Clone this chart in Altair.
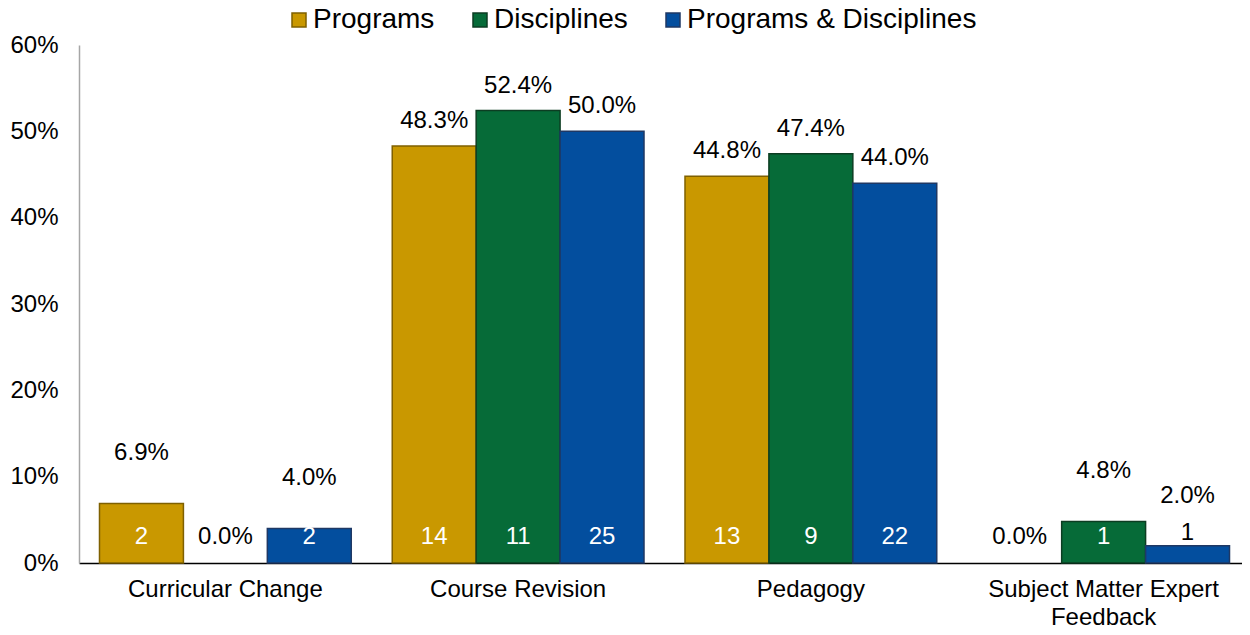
import altair as alt
import pandas as pd

categories = ["Curricular Change", "Course Revision", "Pedagogy", "Subject Matter Expert Feedback"]
series = ["Programs", "Disciplines", "Programs & Disciplines"]
programs_pct = [6.9, 48.3, 44.8, 0.0]
disciplines_pct = [0.0, 52.4, 47.4, 4.8]
both_pct = [4.0, 50.0, 44.0, 2.0]
programs_n = [2, 14, 13, 0]
disciplines_n = [0, 11, 9, 1]
both_n = [2, 25, 22, 1]

colors = ["#C99800", "#066B38", "#034E9E"]
strokes = ["#7F6000", "#0C3D22", "#1F3864"]

rows = []
for s, pcts, ns in zip(series, [programs_pct, disciplines_pct, both_pct], [programs_n, disciplines_n, both_n]):
    for c, p, n in zip(categories, pcts, ns):
        rows.append({"category": c, "series": s, "pct": p, "n": n})
df = pd.DataFrame(rows)

FONT = "Liberation Sans"

x = alt.X("category:N", sort=categories, title=None,
          scale=alt.Scale(paddingInner=0.14, paddingOuter=0.07, range=[0, 1171]),
          axis=alt.Axis(labelAngle=0, labelFontSize=24, labelFont=FONT, labelColor="black",
                        ticks=False, domainColor="black", domainWidth=1.5, labelPadding=14,
                        labelLineHeight=28, labelLimit=400,
                        labelExpr="datum.label == 'Subject Matter Expert Feedback' ? ['Subject Matter Expert', 'Feedback'] : datum.label"))
xo = alt.XOffset("series:N", sort=series, scale=alt.Scale(paddingInner=0, paddingOuter=0))

base = alt.Chart(df)

legend_cfg = dict(orient="none", direction="horizontal", legendX=206, legendY=-39,
                  labelFontSize=28, labelFont=FONT, labelColor="black", labelLimit=600,
                  symbolType="square", symbolSize=196, symbolStrokeWidth=1.5,
                  labelOffset=0, columnPadding=31, title=None)

y_axis = alt.Axis(values=[0, 10, 20, 30, 40, 50, 60], labelExpr="datum.value + '%'",
                  labelFontSize=24, labelFont=FONT, labelColor="black", ticks=False,
                  grid=False, domainColor="#A6A6A6", domainWidth=1.5, labelPadding=21)

bars = base.transform_filter("datum.pct > 0").mark_bar(strokeWidth=1.5).encode(
    x=x,
    xOffset=xo,
    y=alt.Y("pct:Q", title=None, scale=alt.Scale(domain=[0, 60], nice=False), axis=y_axis),
    color=alt.Color("series:N", sort=series, title=None,
                    scale=alt.Scale(domain=series, range=colors),
                    legend=alt.Legend(**legend_cfg)),
    stroke=alt.Stroke("series:N", sort=series, title=None,
                      scale=alt.Scale(domain=series, range=strokes),
                      legend=alt.Legend(**legend_cfg)),
)

pct_text = base.transform_calculate(
    ypos="datum.pct == 0 ? 3 : (datum.pct < 10 ? datum.pct + 5.8 : datum.pct + 2.9)",
    label="format(datum.pct, '.1f') + '%'",
).mark_text(fontSize=24, font=FONT, color="black", baseline="middle", align="center").encode(
    x=x, xOffset=xo, y=alt.Y("ypos:Q", title=None, axis=y_axis), text="label:N"
)

n_text = base.transform_filter("datum.n > 0").transform_calculate(
    ypos="datum.pct < 4 ? datum.pct + 1.5 : 3",
).mark_text(fontSize=24, font=FONT, baseline="middle", align="center").encode(
    x=x, xOffset=xo, y=alt.Y("ypos:Q", title=None, axis=y_axis), text="n:Q",
    color=alt.condition("datum.pct < 4", alt.value("black"), alt.value("white")),
)

chart = alt.layer(bars, pct_text, n_text).properties(
    width=1163, height=518,
    background="white",
    autosize=alt.AutoSizeParams(type="none"),
    padding={"left": 71, "top": 37, "right": 0, "bottom": 64},
).configure_view(stroke=None).configure_axis(grid=False)

chart.save("out.html", embed_options={"renderer": "svg", "actions": False})
